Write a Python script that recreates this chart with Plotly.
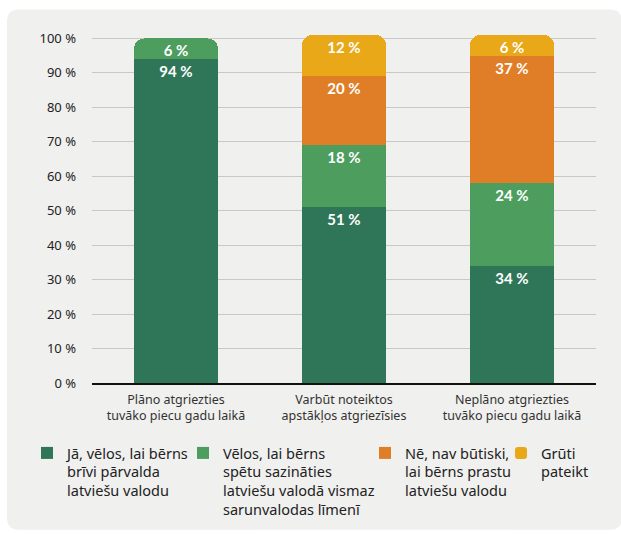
import plotly.graph_objects as go

categories = ["Plāno atgriezties<br>tuvāko piecu gadu laikā",
              "Varbūt noteiktos<br>apstākļos atgriezīsies",
              "Neplāno atgriezties<br>tuvāko piecu gadu laikā"]
series_names = ["Jā, vēlos, lai bērns<br>brīvi pārvalda<br>latviešu valodu",
                "Vēlos, lai bērns<br>spētu sazināties<br>latviešu valodā vismaz<br>sarunvalodas līmenī",
                "Nē, nav būtiski,<br>lai bērns prastu<br>latviešu valodu",
                "Grūti<br>pateikt"]
val_ja = [94, 51, 34]
val_velos = [6, 18, 24]
val_ne = [None, 20, 37]
val_gruti = [None, 12, 6]
series_values = [val_ja, val_velos, val_ne, val_gruti]
colors = ["#2F7659", "#4C9D5E", "#E07E28", "#E8A817"]
y_ticks = list(range(0, 101, 10))

W, H = 621, 534
L, R, T, B = 92, 25, 34.5, 151
pw, ph = W - L - R, H - T - B

FONT = "Noto Sans, Lato, sans-serif"

fig = go.Figure()
legend_left = [27, 183, 365, 501]
for i, (name, vals, col) in enumerate(zip(series_names, series_values, colors)):
    lg = "legend" if i == 0 else f"legend{i+1}"
    marker = dict(color=col, line=dict(width=0))
    if i == len(series_values) - 1:
        marker["cornerradius"] = 10   # rounding of the top of each stack
    fig.add_trace(go.Bar(
        x=categories, y=vals, name=name, marker=marker,
        legend=lg, hoverinfo="skip",
    ))

# value labels (same stack on an overlaid, hidden pair of axes, without rounding)
for i, vals in enumerate(series_values):
    fig.add_trace(go.Bar(
        x=categories, y=vals, xaxis="x2", yaxis="y2", showlegend=False,
        marker=dict(color="rgba(0,0,0,0)", line=dict(width=0), cornerradius=0),
        text=[f"{v} %" if v is not None else "" for v in vals],
        textposition="inside", insidetextanchor="end", constraintext="none",
        textfont=dict(family="Lato, sans-serif", size=15, color="white", weight="bold"),
        cliponaxis=False, hoverinfo="skip",
    ))

def px2paper(x, y):
    return (x - L) / pw, (H - B - y) / ph

# rounded background panel
x0, y0, x1, y1, r = 7, 9, 622, 530, 12
def pt(x, y):
    a, b = px2paper(x, y)
    return f"{a:.5f},{b:.5f}"
path = (f"M {pt(x0 + r, y0)} L {pt(x1 - r, y0)} Q {pt(x1, y0)} {pt(x1, y0 + r)} "
        f"L {pt(x1, y1 - r)} Q {pt(x1, y1)} {pt(x1 - r, y1)} "
        f"L {pt(x0 + r, y1)} Q {pt(x0, y1)} {pt(x0, y1 - r)} "
        f"L {pt(x0, y0 + r)} Q {pt(x0, y0)} {pt(x0 + r, y0)} Z")
fig.add_shape(type="path", path=path, xref="paper", yref="paper",
              fillcolor="#F0F0EF", line=dict(width=0), layer="below")

legend_style = dict(orientation="v", xref="container", yref="container",
                    yanchor="top", xanchor="left", valign="top",
                    bgcolor="rgba(0,0,0,0)", borderwidth=0,
                    font=dict(family=FONT, size=14.5, color="#222"),
                    itemclick=False, itemdoubleclick=False)
legends = {}
for i, lx in enumerate(legend_left):
    key = "legend" if i == 0 else f"legend{i+1}"
    legends[key] = dict(legend_style, x=lx / W, y=1 - 437 / H)

fig.update_layout(
    width=W, height=H, barmode="stack", bargap=0.5, showlegend=True,
    margin=dict(l=L, r=R, t=T, b=B, autoexpand=False),
    paper_bgcolor="white", plot_bgcolor="rgba(0,0,0,0)",
    font=dict(family=FONT, color="#222"),
    xaxis=dict(showgrid=False, showline=True, linecolor="#111", linewidth=2,
               tickfont=dict(family=FONT, size=12.5, color="#333"), ticks="",
               ticklabelstandoff=4),
    yaxis=dict(range=[0, 101], tickvals=y_ticks, ticktext=[f"{v} %" for v in y_ticks],
               showgrid=True, gridcolor="#C8C8C8", gridwidth=1, zeroline=False,
               tickfont=dict(family=FONT, size=13, color="#222"), ticklabelstandoff=15),
    xaxis2=dict(overlaying="x", matches="x", visible=False),
    yaxis2=dict(overlaying="y", matches="y", visible=False),
    **legends,
)

fig.write_html("out.html", config={"displayModeBar": False},
               post_script="document.body.style.margin='0';")
